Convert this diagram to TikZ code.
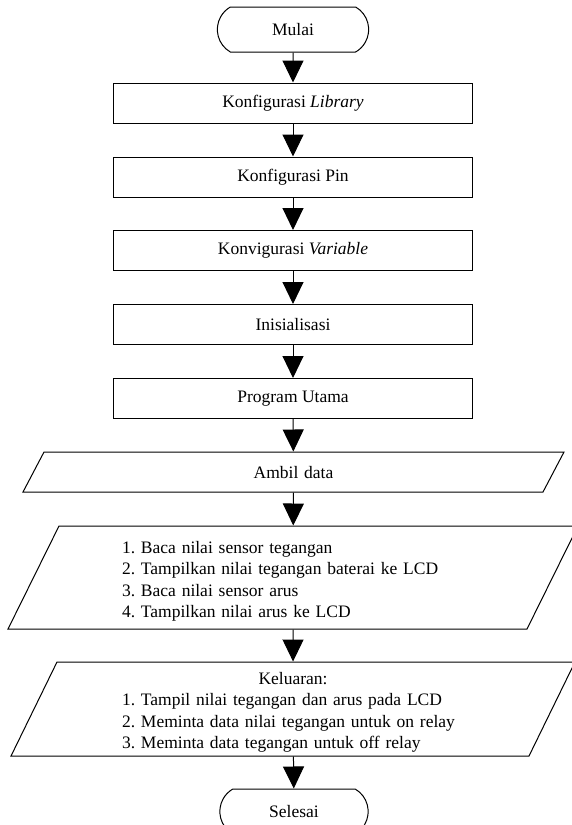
\documentclass[tikz,border=0pt]{standalone}
\usepackage{fontspec}
\setmainfont{Liberation Serif}
\frenchspacing
\usetikzlibrary{shapes.geometric,shapes.misc,arrows.meta}
\tikzset{
  term/.style={draw, rounded rectangle, rounded rectangle arc length=120,
    minimum width=158pt, minimum height=45pt},
  proc/.style={draw, rectangle, minimum width=359pt, minimum height=40pt},
  io/.style={draw, trapezium, trapezium left angle=#1, trapezium right angle=180-#1,
    inner ysep=0pt},
  flow/.style={-{Triangle[length=22pt,width=21pt]}},
}
\begin{document}
\begin{tikzpicture}[x=1pt,y=-1pt,line width=1pt,font=\fontsize{17.5}{21.5}\selectfont]
  \useasboundingbox (0,0) rectangle (572,825);
  \draw
    (293,29.5) node[term] (mulai){Mulai}
    (293,103) node[proc] (lib){Konfigurasi \textit{Library}}
    (293,177) node[proc] (pin){Konfigurasi Pin}
    (293,250.5) node[proc] (var){Konvigurasi \textit{Variable}}
    (293,324.5) node[proc] (init){Inisialisasi}
    (293,398.5) node[proc] (utama){Program Utama}
    (293.5,472) node[io=62.3, text width=491pt, inner xsep=4pt, align=center,
      text height=26pt, text depth=14pt] (ambil){Ambil data}
    (293,577.5) node[io=63.66, text width=342pt, inner xsep=63pt, align=left,
      text height=27pt, text depth=76pt] (baca){1. Baca nilai sensor tegangan\\
      2. Tampilkan nilai tegangan baterai ke LCD\\
      3. Baca nilai sensor arus\\
      4. Tampilkan nilai arus ke LCD}
    (293,709) node[io=63.93, text width=342pt, inner xsep=65pt, align=left,
      text height=22pt, text depth=72pt] (keluar){\makebox[\linewidth]{Keluaran:}\\
      1. Tampil nilai tegangan dan arus pada LCD\\
      2. Meminta data nilai tegangan untuk on relay\\
      3. Meminta data tegangan untuk off relay}
    (294,811.5) node[term, minimum width=155pt] (selesai){Selesai};
  \begin{scope}[flow]
    \draw (mulai) to (lib);
    \draw (lib) to (pin);
    \draw (pin) to (var);
    \draw (var) to (init);
    \draw (init) to (utama);
    \draw (utama) to (ambil);
    \draw (ambil) to (baca);
    \draw (baca) to (keluar);
    \draw (keluar) to (selesai);
  \end{scope}
\end{tikzpicture}
\end{document}
